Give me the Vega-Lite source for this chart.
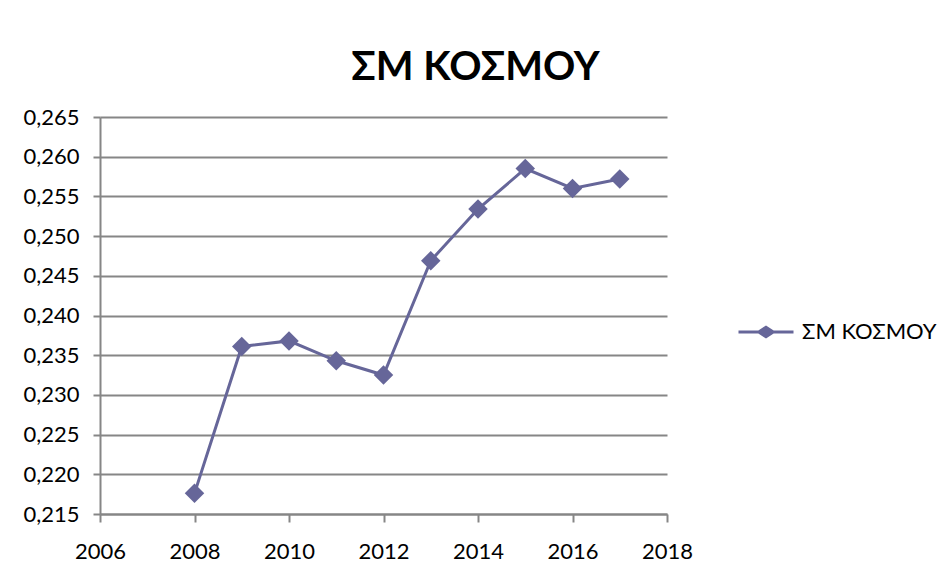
{
  "$schema": "https://vega.github.io/schema/vega-lite/v6.json",
  "width": 567,
  "height": 397,
  "autosize": {"type": "none"},
  "padding": {"left": 100, "top": 117, "right": 270, "bottom": 51},
  "background": "white",
  "config": {
    "font": "Lato",
    "view": {"stroke": null},
    "axis": {"labelFont": "Lato", "labelFontSize": 22, "labelColor": "#000000", "domainColor": "#868686", "domainWidth": 2, "tickColor": "#868686", "tickWidth": 2, "tickSize": 7, "gridColor": "#868686", "gridWidth": 2, "titleFontSize": 0}
  },
  "title": {
    "text": "ΣΜ ΚΟΣΜΟΥ",
    "font": "Lato",
    "fontSize": 40,
    "fontWeight": "bold",
    "color": "#000000",
    "anchor": "middle",
    "dx": 92,
    "offset": 18
  },
  "data": {
    "values": [
      {"year": 2008, "value": 0.2176, "series": "ΣΜ ΚΟΣΜΟΥ"},
      {"year": 2009, "value": 0.2361, "series": "ΣΜ ΚΟΣΜΟΥ"},
      {"year": 2010, "value": 0.2368, "series": "ΣΜ ΚΟΣΜΟΥ"},
      {"year": 2011, "value": 0.2343, "series": "ΣΜ ΚΟΣΜΟΥ"},
      {"year": 2012, "value": 0.2325, "series": "ΣΜ ΚΟΣΜΟΥ"},
      {"year": 2013, "value": 0.2469, "series": "ΣΜ ΚΟΣΜΟΥ"},
      {"year": 2014, "value": 0.2534, "series": "ΣΜ ΚΟΣΜΟΥ"},
      {"year": 2015, "value": 0.2585, "series": "ΣΜ ΚΟΣΜΟΥ"},
      {"year": 2016, "value": 0.2560, "series": "ΣΜ ΚΟΣΜΟΥ"},
      {"year": 2017, "value": 0.2572, "series": "ΣΜ ΚΟΣΜΟΥ"}
    ]
  },
  "encoding": {
    "x": {
      "field": "year", "type": "quantitative",
      "scale": {"domain": [2006, 2018], "nice": false, "zero": false},
      "axis": {"values": [2006, 2008, 2010, 2012, 2014, 2016, 2018], "format": "d", "grid": false, "title": null, "labelPadding": 19, "tickSize": 8, "labelFlush": false}
    },
    "y": {
      "field": "value", "type": "quantitative",
      "scale": {"domain": [0.215, 0.265], "nice": false, "zero": false},
      "axis": {"values": [0.215, 0.22, 0.225, 0.23, 0.235, 0.24, 0.245, 0.25, 0.255, 0.26, 0.265], "labelExpr": "replace(format(datum.value, '.3f'), '.', ',')", "title": null, "labelPadding": 14, "grid": true}
    },
    "color": {
      "field": "series", "type": "nominal",
      "scale": {"range": ["#666699"]},
      "legend": {
        "title": null,
        "orient": "none",
        "legendX": 655,
        "legendY": 204,
        "padding": 0,
        "labelFont": "Lato",
        "labelFontSize": 22,
        "labelColor": "#000000",
        "labelOffset": 25,
        "symbolType": "M-2.75,-0.15L2.75,-0.15L2.75,0.15L-2.75,0.15Z M0,-0.65L1,0L0,0.65L-1,0Z",
        "symbolSize": 400,
        "symbolFillColor": "#666699",
        "symbolStrokeWidth": 0
      }
    }
  },
  "layer": [
    {"mark": {"type": "line", "strokeWidth": 3}},
    {"mark": {"type": "point", "shape": "diamond", "filled": true, "size": 380, "opacity": 1}}
  ]
}
